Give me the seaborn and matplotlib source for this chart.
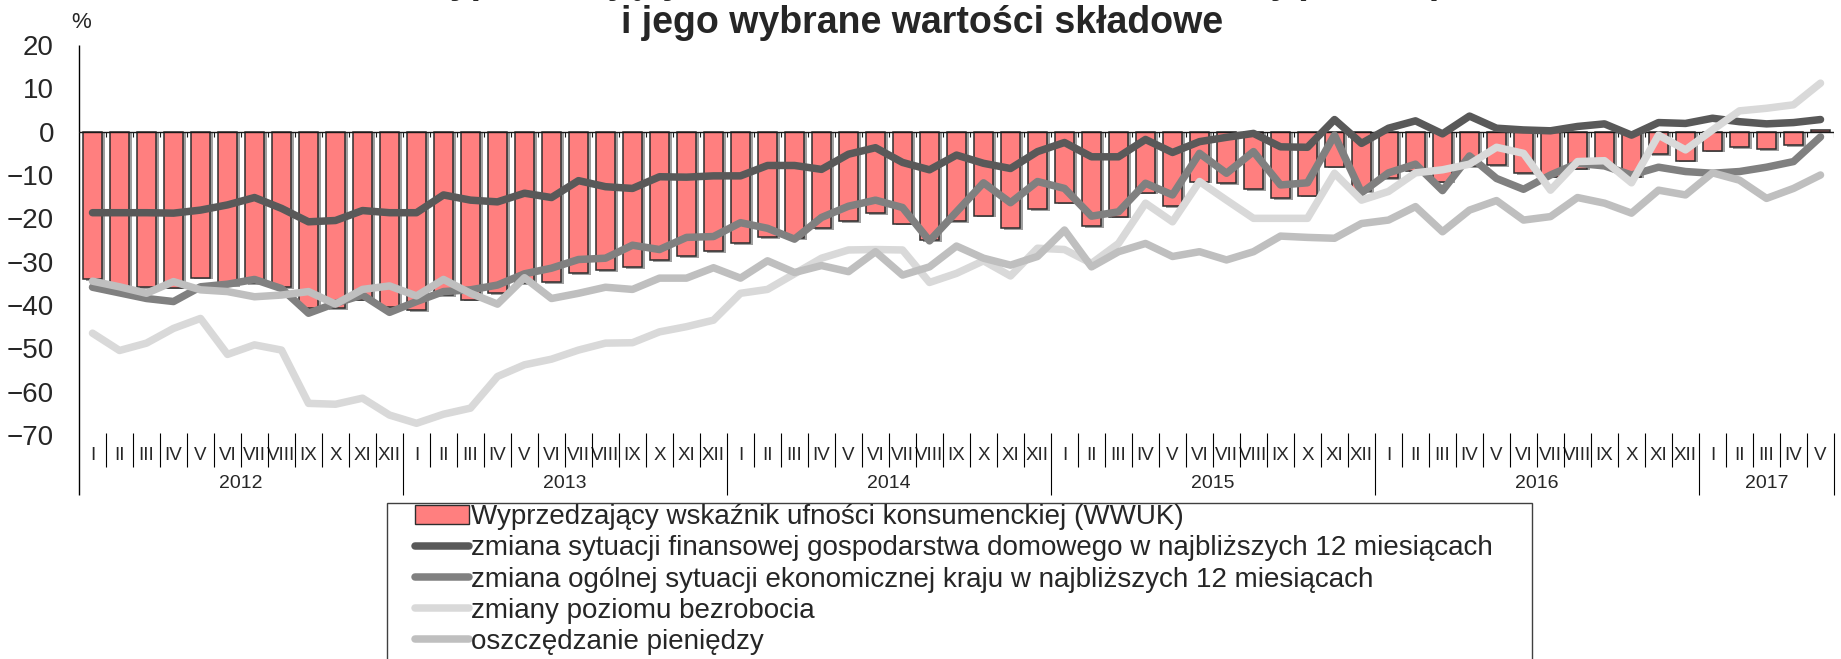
import numpy as np
import pandas as pd
import matplotlib
matplotlib.use("Agg")
import matplotlib.pyplot as plt
import matplotlib.patheffects as pe
from matplotlib.patches import Patch, Rectangle
from matplotlib.lines import Line2D
import seaborn as sns

# ---- data -------------------------------------------------------------
roman = ["I", "II", "III", "IV", "V", "VI", "VII", "VIII", "IX", "X", "XI", "XII"]
years = [2012, 2013, 2014, 2015, 2016, 2017]
months_per_year = [12, 12, 12, 12, 12, 5]

wwuk = [
    -34.1, -36.0, -35.9, -36.0, -33.7, -35.4, -35.0, -35.9, -40.8, -40.8, -38.8, -40.5,
    -41.2, -37.7, -38.8, -37.3, -35.0, -34.8, -32.7, -31.9, -31.2, -29.6, -28.7, -27.5,
    -25.8, -24.4, -24.6, -22.3, -20.6, -18.8, -21.2, -25.0, -20.6, -19.4, -22.3, -17.9,
    -16.4, -21.8, -19.6, -14.1, -17.2, -11.5, -11.9, -13.3, -15.4, -14.8, -8.1, -13.8,
    -10.8, -9.0, -11.5, -8.0, -7.7, -9.6, -10.4, -8.5, -8.0, -10.4, -5.2, -6.7,
    -4.4, -3.6, -4.1, -3.1, 0.4,
]
finanse = [
    -18.7, -18.7, -18.7, -18.8, -18.1, -16.9, -15.2, -17.7, -20.8, -20.5, -18.2, -18.7,
    -18.7, -14.6, -15.8, -16.2, -14.2, -15.2, -11.3, -12.7, -13.1, -10.4, -10.5, -10.2,
    -10.2, -7.8, -7.8, -8.7, -5.2, -3.7, -7.1, -8.8, -5.4, -7.3, -8.5, -4.6,
    -2.5, -5.8, -5.8, -1.8, -4.8, -2.3, -1.3, -0.4, -3.5, -3.6, 2.8, -2.7,
    0.8, 2.5, -0.5, 3.6, 0.8, 0.4, 0.2, 1.2, 1.8, -0.8, 2.1, 1.9,
    3.1, 2.3, 1.8, 2.1, 2.8,
]
gospodarka = [
    -35.9, -37.2, -38.5, -39.2, -35.8, -35.2, -34.1, -36.2, -41.9, -39.6, -37.7, -41.7,
    -39.2, -36.9, -36.5, -35.4, -32.8, -31.5, -29.5, -29.2, -26.2, -27.2, -24.4, -24.2,
    -21.0, -22.3, -24.8, -19.8, -17.2, -15.8, -17.5, -25.2, -18.5, -11.8, -16.4, -11.5,
    -13.1, -19.5, -18.5, -11.9, -14.6, -5.0, -9.6, -4.6, -12.3, -11.8, -0.8, -14.1,
    -9.5, -7.5, -13.6, -5.6, -10.8, -13.3, -10.0, -7.3, -7.9, -10.0, -8.2, -9.2,
    -9.6, -9.2, -8.2, -6.9, -1.2,
]
bezrobocie = [
    -46.5, -50.5, -48.8, -45.4, -43.1, -51.4, -49.2, -50.4, -62.7, -62.9, -61.5, -65.4,
    -67.3, -65.2, -63.8, -56.5, -53.8, -52.5, -50.4, -48.8, -48.7, -46.2, -45.0, -43.5,
    -37.3, -36.4, -32.8, -29.2, -27.3, -27.2, -27.3, -34.8, -32.7, -29.8, -33.3, -26.9,
    -27.2, -30.4, -25.8, -16.5, -20.8, -11.5, -15.8, -20.0, -20.0, -20.0, -9.6, -15.8,
    -13.8, -9.5, -8.8, -7.5, -3.6, -5.0, -13.5, -6.9, -6.7, -11.8, -0.8, -4.2,
    0.4, 4.8, 5.4, 6.2, 11.2,
]
oszczedzanie = [
    -34.5, -35.8, -37.3, -34.6, -36.5, -36.9, -38.1, -37.7, -36.9, -39.8, -36.4, -35.6,
    -37.9, -34.1, -37.3, -39.8, -33.7, -38.5, -37.3, -35.9, -36.4, -33.8, -33.8, -31.4,
    -33.8, -29.8, -32.5, -30.9, -32.3, -27.7, -33.1, -31.2, -26.4, -29.2, -30.8, -28.8,
    -22.7, -31.2, -27.7, -25.8, -28.8, -27.7, -29.6, -27.7, -24.1, -24.4, -24.6, -21.2,
    -20.4, -17.3, -23.1, -18.1, -15.9, -20.4, -19.6, -15.2, -16.5, -18.8, -13.5, -14.6,
    -9.5, -11.2, -15.4, -13.1, -10.0,
]

bar_label = "Wyprzedzający wskaźnik ufności konsumenckiej (WWUK)"
line_labels = [
    "zmiana sytuacji finansowej gospodarstwa domowego w najbliższych 12 miesiącach",
    "zmiana ogólnej sytuacji ekonomicznej kraju w najbliższych 12 miesiącach",
    "zmiany poziomu bezrobocia",
    "oszczędzanie pieniędzy",
]
line_values = [finanse, gospodarka, bezrobocie, oszczedzanie]
line_colors = ["#595959", "#808080", "#D9D9D9", "#BFBFBF"]
bar_color = "#FF7F7F"

title_top = "Wyprzedzający wskaźnik ufności konsumenckiej (WWUK)"
title_bottom = "i jego wybrane wartości składowe"

# ---- tidy frames ------------------------------------------------------
month_labels = [m for n in months_per_year for m in roman[:n]]
year_of = [y for y, n in zip(years, months_per_year) for _ in range(n)]
pos = np.arange(len(month_labels))

bars_df = pd.DataFrame({"pos": pos, "value": wwuk})
lines_df = pd.concat(
    [pd.DataFrame({"pos": pos, "value": vals, "series": name})
     for name, vals in zip(line_labels, line_values)],
    ignore_index=True,
)

# ---- style ------------------------------------------------------------
sns.set_style("white")
plt.rcParams["font.family"] = ["Liberation Sans", "DejaVu Sans"]
plt.rcParams["axes.linewidth"] = 0.8

fig = plt.figure(figsize=(18.41, 6.59), dpi=100)
ax = fig.add_axes([0.04291, 0.33991, 0.95329, 0.59180])

sns.barplot(data=bars_df, x="pos", y="value", color=bar_color, width=0.68,
            edgecolor="#2e2e2e", linewidth=1.1, saturation=1, ax=ax, zorder=2)
for bar in ax.patches:
    bar.set_path_effects([
        pe.SimplePatchShadow(offset=(2.2, -1.2), shadow_rgbFace="#808080", alpha=0.75),
        pe.Normal(),
    ])

sns.lineplot(data=lines_df, x="pos", y="value", hue="series", hue_order=line_labels,
             palette=line_colors, linewidth=5.4, sort=False, legend=False, ax=ax,
             zorder=3, solid_capstyle="round", solid_joinstyle="round")

ax.set_xlim(-0.5, len(month_labels) - 0.5)
ax.set_ylim(-70, 20)
ax.set_yticks(range(-70, 21, 10))
ax.tick_params(axis="y", length=0, pad=18.0, labelsize=20)
ax.set_xticks(pos)
ax.set_xticklabels(month_labels, fontsize=13.5)
ax.tick_params(axis="x", length=0, pad=8.5)
ax.set_xlabel("")
ax.set_ylabel("")
for sp in ax.spines.values():
    sp.set_visible(False)

# zero line with small category ticks hanging below it
ax.axhline(0, color="#1a1a1a", lw=1.0, zorder=2.5)
edges = np.arange(len(month_labels) + 1) - 0.5
ax.vlines(edges[1:], -1.15, 0, color="#1a1a1a", lw=0.8, zorder=2.5)

# category axis: month separators, year separators and year names
xt = ax.get_xaxis_transform()
year_starts = [i for i, m in enumerate(month_labels) if m == "I"]
month_edges = [e for i, e in enumerate(edges[1:-1], start=1) if i not in year_starts]
year_edges = [edges[i] for i in year_starts[1:]] + [edges[-1]]
ax.vlines(month_edges, -0.082, 0.005, transform=xt, color="black", lw=0.8, clip_on=False)
ax.vlines(year_edges, -0.154, 0.005, transform=xt, color="black", lw=0.8, clip_on=False)
ax.vlines([edges[0]], -0.154, 1.0, transform=xt, color="black", lw=1.0, clip_on=False)
for yr in years:
    idx = [i for i, y in enumerate(year_of) if y == yr]
    ax.text(np.mean(idx), -0.125, str(yr), transform=xt, ha="center", va="center",
            fontsize=14)

# unit label and title (the first title line sits mostly above the canvas)
fig.text(0.0440, 0.9665, "%", ha="center", va="center", fontsize=16)
fig.text(0.5050, 1 + 7 / 659, title_top, ha="center", va="baseline",
         fontsize=27, fontweight="bold")
fig.text(0.5008, 1 - 33 / 659, title_bottom, ha="center", va="baseline",
         fontsize=27, fontweight="bold")

# legend with its frame running past the bottom edge
handles = [Patch(facecolor=bar_color, edgecolor="#2e2e2e", linewidth=1.0)]
handles += [Line2D([0], [0], color=c, lw=5.4, solid_capstyle="round") for c in line_colors]
fig.legend(handles, [bar_label] + line_labels, loc="upper left",
           bbox_to_anchor=(0.2254, 1 - 504 / 659), frameon=False, fontsize=20,
           handlelength=1.95, handletextpad=0.05, borderpad=0, borderaxespad=0,
           labelspacing=0.19)
fig.patches.append(Rectangle((387 / 1841, -0.05), (1532 - 387) / 1841, 0.05 + 1 - 503 / 659,
                             transform=fig.transFigure, fill=False,
                             edgecolor="#404040", lw=1.0))

fig.savefig("out.png", dpi=100)
